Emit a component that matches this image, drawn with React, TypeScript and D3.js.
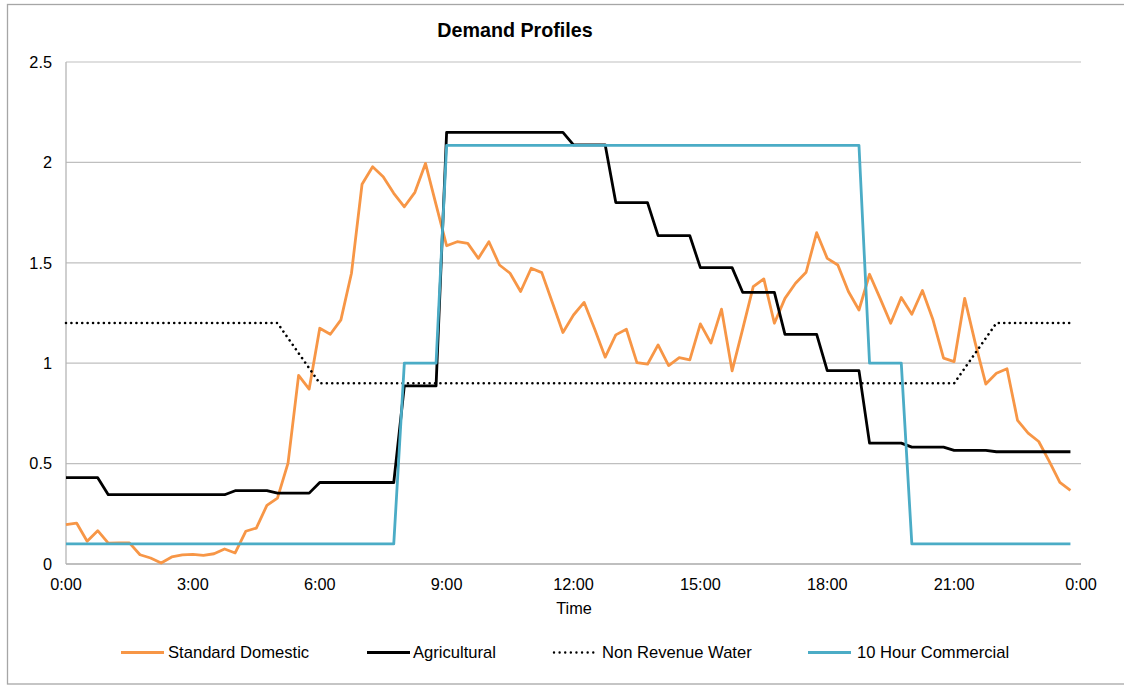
import React from 'react';
import * as d3 from 'd3';

// ---- Data ----
// Standard Domestic: 15-minute values, 0:00 .. 23:45
const standardDomestic = [
  0.196, 0.204, 0.113, 0.166, 0.104, 0.105, 0.105, 0.046,
  0.030, 0.005, 0.035, 0.045, 0.048, 0.043, 0.051, 0.075,
  0.055, 0.163, 0.179, 0.292, 0.328, 0.502, 0.939, 0.871,
  1.174, 1.144, 1.216, 1.448, 1.891, 1.978, 1.929, 1.846,
  1.779, 1.851, 1.995, 1.790, 1.585, 1.605, 1.597, 1.522,
  1.605, 1.489, 1.448, 1.357, 1.473, 1.451, 1.302, 1.153,
  1.240, 1.303, 1.170, 1.030, 1.141, 1.169, 1.003, 0.995,
  1.091, 0.988, 1.028, 1.017, 1.196, 1.100, 1.269, 0.962,
  1.170, 1.381, 1.420, 1.199, 1.323, 1.398, 1.453, 1.650,
  1.522, 1.489, 1.357, 1.265, 1.443, 1.323, 1.199, 1.327,
  1.244, 1.362, 1.216, 1.025, 1.008, 1.323, 1.100, 0.896,
  0.950, 0.972, 0.715, 0.652, 0.610, 0.511, 0.406, 0.367,
];

// Agricultural: hourly values (each held for the four quarter-hours of the hour)
const agriculturalHourly = [
  0.43, 0.345, 0.345, 0.345, 0.365, 0.353, 0.406, 0.406,
  0.887, 2.15, 2.15, 2.15, 2.087, 1.80, 1.635, 1.476,
  1.353, 1.144, 0.963, 0.602, 0.582, 0.566, 0.559, 0.559,
];

// 10 Hour Commercial: hourly values
const commercialHourly = [
  0.1, 0.1, 0.1, 0.1, 0.1, 0.1, 0.1, 0.1,
  1.0, 2.085, 2.085, 2.085, 2.085, 2.085, 2.085, 2.085,
  2.085, 2.085, 2.085, 1.0, 0.1, 0.1, 0.1, 0.1,
];

// Non Revenue Water: breakpoints (hour, value)
const nrwHours = [0, 5, 6, 21, 22, 23.75];
const nrwValues = [1.2, 1.2, 0.9, 0.9, 1.2, 1.2];

const xTickHours = [0, 3, 6, 9, 12, 15, 18, 21, 24];
const yTickValues = [0, 0.5, 1, 1.5, 2, 2.5];

const seriesNames = ['Standard Domestic', 'Agricultural', 'Non Revenue Water', '10 Hour Commercial'];
const seriesColors = ['#F79646', '#000000', '#000000', '#4BACC6'];

const chartTitle = 'Demand Profiles';
const xAxisTitle = 'Time';

type Pt = { t: number; v: number };

const quarter = (vals: number[]): Pt[] => vals.map((v, i) => ({ t: i * 0.25, v }));
const hourlyToQuarter = (vals: number[]): Pt[] =>
  d3.range(96).map((i) => ({ t: i * 0.25, v: vals[Math.floor(i / 4)] }));

export default function App() {
  const W = 1124;
  const H = 686;
  const left = 66;
  const right = 1081;
  const top = 62;
  const bottom = 564;

  const x = d3.scaleLinear().domain([0, 24]).range([left, right]);
  const y = d3.scaleLinear().domain([0, 2.5]).range([bottom, top]);

  const line = d3
    .line<Pt>()
    .x((d) => x(d.t))
    .y((d) => y(d.v));

  const domestic = quarter(standardDomestic);
  const agri = hourlyToQuarter(agriculturalHourly);
  const comm = hourlyToQuarter(commercialHourly);
  const nrw: Pt[] = nrwHours.map((t, i) => ({ t, v: nrwValues[i] }));

  const font = '"Liberation Sans", Arial, sans-serif';
  const lw = 2.8;

  const legendItems = [
    { lx: 121, tx: 168, dashed: false },
    { lx: 367, tx: 413, dashed: false },
    { lx: 554, tx: 602, dashed: true },
    { lx: 808, tx: 857, dashed: false },
  ];
  const legendY = 652.5;

  return (
    <svg
      width={W}
      height={H}
      style={{ position: 'absolute', left: 0, top: 0, background: '#fff' }}
      fontFamily={font}
    >
      <rect x={0} y={0} width={W} height={H} fill="#fff" />
      {/* outer chart border */}
      <rect x={7.5} y={4.5} width={1130} height={679.5} fill="none" stroke="#A6A6A6" strokeWidth={1.3} />

      {/* title */}
      <text x={515} y={37} textAnchor="middle" fontSize={19.7} fontWeight="bold" fill="#000">
        {chartTitle}
      </text>

      {/* gridlines */}
      {yTickValues.map((v) => (
        <line key={'g' + v} x1={left} x2={right} y1={y(v)} y2={y(v)} stroke="#BFBFBF" strokeWidth={1.2} />
      ))}
      {/* axes lines */}
      <line x1={left} x2={left} y1={top} y2={bottom} stroke="#B5B5B5" strokeWidth={1.3} />
      <line x1={left} x2={right} y1={bottom} y2={bottom} stroke="#B5B5B5" strokeWidth={1.5} />

      {/* y tick labels */}
      {yTickValues.map((v) => (
        <text key={'yl' + v} x={52} y={y(v)} dy="0.36em" textAnchor="end" fontSize={16.3} fill="#000">
          {d3.format('~g')(v)}
        </text>
      ))}
      {/* x tick labels */}
      {xTickHours.map((h) => (
        <text key={'xl' + h} x={x(h)} y={590} textAnchor="middle" fontSize={16.3} fill="#000">
          {`${h % 24}:00`}
        </text>
      ))}
      <text x={574} y={614} textAnchor="middle" fontSize={16.3} fill="#000">
        {xAxisTitle}
      </text>

      {/* series */}
      <path d={line(domestic) || ''} fill="none" stroke={seriesColors[0]} strokeWidth={lw} strokeLinejoin="round" />
      <path d={line(agri) || ''} fill="none" stroke={seriesColors[1]} strokeWidth={lw} strokeLinejoin="round" />
      <path
        d={line(nrw) || ''}
        fill="none"
        stroke={seriesColors[2]}
        strokeWidth={2.6}
        strokeDasharray="0.01 5.4"
        strokeLinecap="round"
      />
      <path d={line(comm) || ''} fill="none" stroke={seriesColors[3]} strokeWidth={lw} strokeLinejoin="round" />

      {/* legend */}
      {legendItems.map((it, i) => (
        <g key={'lg' + i}>
          <line
            x1={it.lx}
            x2={it.lx + 43}
            y1={legendY}
            y2={legendY}
            stroke={seriesColors[i]}
            strokeWidth={it.dashed ? 2.4 : 2.8}
            strokeDasharray={it.dashed ? '0.01 5.6' : undefined}
            strokeLinecap={it.dashed ? 'round' : 'butt'}
          />
          <text x={it.tx} y={legendY + 5.8} fontSize={16.6} fill="#000">
            {seriesNames[i]}
          </text>
        </g>
      ))}
    </svg>
  );
}
